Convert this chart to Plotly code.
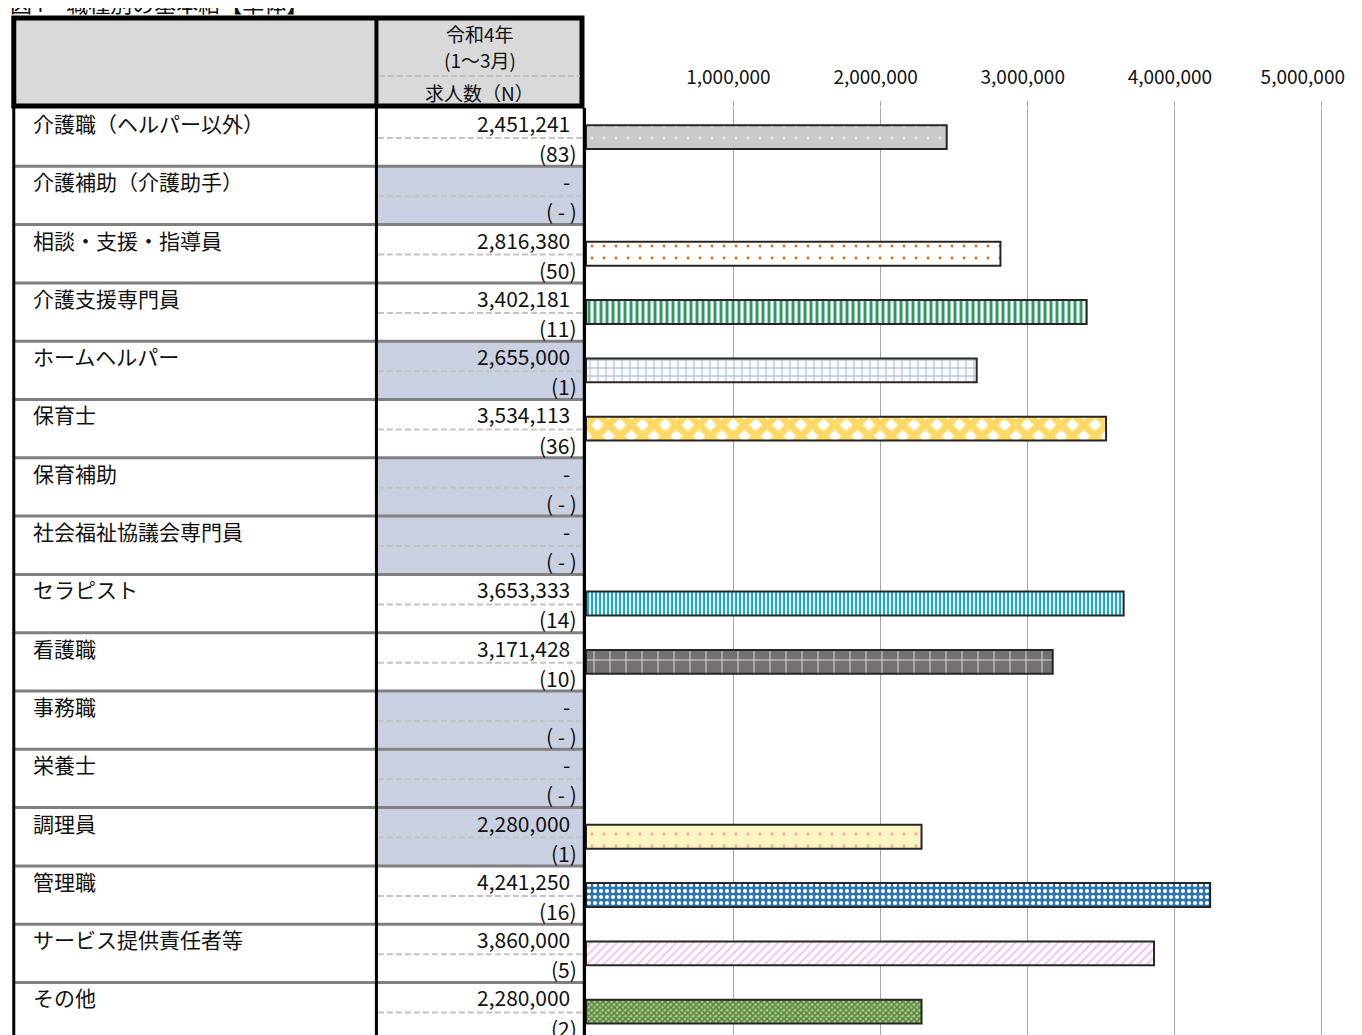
import plotly.graph_objects as go

# ---------------- data ----------------
categories = [
    "介護職（ヘルパー以外）", "介護補助（介護助手）", "相談・支援・指導員", "介護支援専門員",
    "ホームヘルパー", "保育士", "保育補助", "社会福祉協議会専門員",
    "セラピスト", "看護職", "事務職", "栄養士",
    "調理員", "管理職", "サービス提供責任者等", "その他",
]
salary = [2451241, None, 2816380, 3402181,
          2655000, 3534113, None, None,
          3653333, 3171428, None, None,
          2280000, 4241250, 3860000, 2280000]
counts = [83, None, 50, 11,
          1, 36, None, None,
          14, 10, None, None,
          1, 16, 5, 2]
tick_values = [1000000, 2000000, 3000000, 4000000, 5000000]
title_text = "図4　職種別の基本給【単体】"
header_lines = ["令和4年", "(1～3月)", "求人数（N）"]

# ---------------- styles ----------------
pat_shape = [".", "", ".", "|", "+", "x", "", "", "|", "+", "", "", ".", ".", "/", "x"]
pat_bg = ["#c9c9c9", "white", "white", "white", "white", "white", "white", "white",
          "white", "#767171", "white", "white", "#fdf6c3", "#2e75b6", "white", "#a9c98f"]
pat_fg = ["#ececec", "white", "#e26b0a", "#2f9b60", "#b4c6e7", "#ffd966", "white", "white",
          "#00b0f0", "#d9d9d9", "white", "white", "#f6b0a0", "#ffffff", "#f2c9f2", "#548235"]
pat_size = [12, 8, 12, 6, 8, 16, 8, 8, 4, 16, 8, 8, 12, 6, 6, 4]
pat_sol = [0.05, 0.2, 0.045, 0.5, 0.3, 0.68, 0.2, 0.2, 0.5, 0.12, 0.2, 0.2, 0.06, 0.35, 0.4, 0.6]

FONT = "Noto Sans CJK JP"
OFF = 8                      # page body margin
W, H = 1354, 1035
L_REF, T_REF = 586, 108      # plot area top-left in screenshot pixels
XMAX = 5015000
PW = 147.1 * XMAX / 1e6
PH = 1035 - T_REF
ROW = 58.3
YTOP = -0.5
YBOT = YTOP + PH / ROW


def px(p):
    return (p - L_REF) / PW


def py(p):
    return 1 - (p - T_REF) / PH


fig = go.Figure()
for i, cat in enumerate(categories):
    if salary[i] is None:
        continue
    fig.add_trace(go.Bar(
        y=[cat], x=[salary[i]], orientation="h", width=0.41, name=cat,
        marker=dict(
            color=pat_bg[i],
            line=dict(color="#262626", width=2),
            pattern=dict(shape=pat_shape[i], fgcolor=pat_fg[i], bgcolor=pat_bg[i],
                         fgopacity=1, size=pat_size[i], solidity=pat_sol[i],
                         fillmode="overlay"),
        ),
        hoverinfo="x+y",
    ))

shapes = []
annotations = []

for i, n in enumerate(counts):
    if n is None or n < 2:
        shapes.append(dict(type="rect", xref="paper", yref="y",
                           x0=px(377), x1=px(583), y0=i - 0.5, y1=i + 0.5,
                           fillcolor="#c9d0e2", line=dict(width=0), layer="above"))
for i in range(len(categories)):
    shapes.append(dict(type="line", xref="paper", yref="y",
                       x0=px(378), x1=px(583), y0=i + 0.015, y1=i + 0.015,
                       line=dict(color="#c3c3c3", width=2, dash="6px,3px"), layer="above"))
for i in range(len(categories) - 1):
    shapes.append(dict(type="line", xref="paper", yref="y",
                       x0=px(14), x1=px(583), y0=i + 0.5, y1=i + 0.5,
                       line=dict(color="#808080", width=3), layer="above"))
for xx, w in [(14, 3), (376.5, 3), (583.5, 1.5)]:
    shapes.append(dict(type="line", xref="paper", yref="y",
                       x0=px(xx), x1=px(xx), y0=YTOP, y1=YBOT,
                       line=dict(color="#000000", width=w), layer="above"))
shapes.append(dict(type="rect", xref="paper", yref="paper",
                   x0=px(14), x1=px(582), y0=py(18), y1=py(106),
                   fillcolor="#d9d9d9", line=dict(color="#000000", width=5)))
shapes.append(dict(type="line", xref="paper", yref="paper",
                   x0=px(376.5), x1=px(376.5), y0=py(18), y1=py(106),
                   line=dict(color="#000000", width=4)))
shapes.append(dict(type="line", xref="paper", yref="paper",
                   x0=px(379), x1=px(580), y0=py(76), y1=py(76),
                   line=dict(color="#bfbfbf", width=2, dash="6px,3px")))

for txt, yy in zip(header_lines, [34, 60, 92]):
    annotations.append(dict(text=txt, xref="paper", yref="paper", x=px(480), y=py(yy),
                            xanchor="center", yanchor="middle", showarrow=False,
                            font=dict(family=FONT, size=19, color="#111")))
annotations.append(dict(text=title_text, xref="paper", yref="paper", x=px(8), y=py(20),
                        xanchor="left", yanchor="bottom", showarrow=False,
                        font=dict(family=FONT, size=22, color="#111")))

for i, cat in enumerate(categories):
    v = salary[i]
    n = counts[i]
    annotations.append(dict(text=cat, xref="paper", yref="y", x=px(31), y=i - 0.243,
                            xanchor="left", yanchor="middle", showarrow=False,
                            font=dict(family=FONT, size=21, color="#111")))
    annotations.append(dict(text=(f"{v:,}" if v is not None else "-"),
                            xref="paper", yref="y", x=px(572), y=i - 0.243,
                            xanchor="right", yanchor="middle", showarrow=False,
                            font=dict(family=FONT, size=21, color="#111")))
    annotations.append(dict(text=(f"({n})" if n is not None else "( - )"),
                            xref="paper", yref="y", x=px(579), y=i + 0.272,
                            xanchor="right", yanchor="middle", showarrow=False,
                            font=dict(family=FONT, size=21, color="#111")))

# trailing spaces nudge the tick labels slightly left (last one more, to stay in view)
tick_text = [f"{v:,}" + ("\u2003\u2003" if v == tick_values[-1] else "\u2002")
             for v in tick_values]

fig.update_layout(
    width=W, height=H,
    margin=dict(l=L_REF - OFF, r=W - (L_REF - OFF) - PW, t=T_REF - OFF, b=OFF, pad=0,
                autoexpand=False),
    paper_bgcolor="white", plot_bgcolor="white",
    showlegend=False, barmode="overlay",
    font=dict(family=FONT),
    shapes=shapes, annotations=annotations,
    xaxis=dict(range=[0, XMAX], side="top", tickvals=tick_values, ticktext=tick_text,
               ticklabeloverflow="allow", automargin=False,
               showgrid=True, gridcolor="#a6a6a6", gridwidth=1.3, zeroline=False,
               ticks="outside", ticklen=6, tickcolor="#a6a6a6", ticklabelstandoff=9,
               tickfont=dict(family=FONT, size=19, color="#111"), showline=False),
    yaxis=dict(type="category", categoryarray=categories, range=[YBOT, YTOP],
               showticklabels=False, showgrid=False, zeroline=False, automargin=False,
               showline=True, linecolor="#000000", linewidth=2),
)

fig.write_html("out.html")
